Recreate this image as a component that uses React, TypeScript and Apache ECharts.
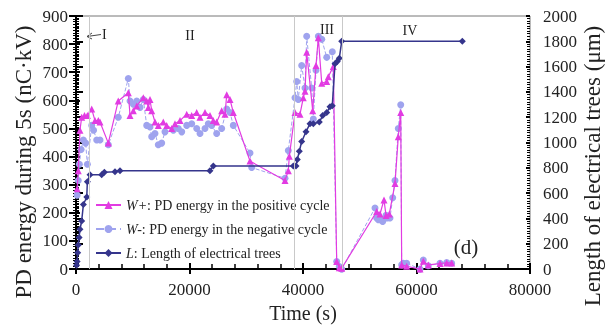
import React, { useEffect, useRef } from "react";
import * as echarts from "echarts";

// ---- Data ----
const wPlusTime = [200, 400, 700, 1000, 1500, 2000, 2770, 3350, 3930, 4230, 5690, 7450, 9220, 9520, 10100, 10700, 11860, 12460, 12740, 13040, 13340, 13920, 14500, 15380, 15980, 16860, 17440, 18330, 19510, 20390, 21270, 21850, 22730, 23610, 24190, 24790, 25670, 26260, 26560, 27140, 27720, 30660, 36830, 37410, 37590, 38590, 39470, 40050, 40350, 40650, 41710, 42290, 42700, 43300, 44180, 44460, 45340, 45940, 46400, 46820, 52990, 53570, 54270, 54630, 55210, 56210, 56790, 57220, 57390, 58270, 60620, 61200, 62080, 64140, 65320, 66200];
const wPlusValue = [286, 350, 494, 540, 546, 546, 569, 528, 528, 523, 448, 598, 627, 546, 563, 580, 609, 598, 575, 603, 563, 523, 511, 523, 511, 500, 517, 528, 551, 546, 557, 540, 557, 546, 528, 523, 563, 551, 620, 603, 557, 384, 315, 350, 401, 557, 551, 609, 632, 771, 563, 724, 823, 661, 667, 684, 720, 27, 5, 3, 205, 196, 246, 191, 196, 304, 471, 557, 15, 10, 0, 28, 15, 20, 22, 22];

const wMinusTime = [200, 400, 600, 900, 1300, 1700, 2000, 2770, 3100, 3650, 4230, 5690, 7450, 9220, 9520, 10100, 10700, 11280, 11860, 12460, 13040, 13340, 13920, 14500, 15100, 15680, 17150, 18030, 18630, 19510, 20390, 21270, 21850, 22730, 23310, 23910, 24790, 25670, 26560, 27140, 27720, 30660, 30960, 36830, 37410, 38590, 38890, 39170, 39770, 40350, 40650, 41530, 41820, 42290, 42700, 43300, 44180, 45160, 45940, 46400, 46820, 52690, 52990, 53270, 53690, 54040, 54630, 54850, 55330, 55810, 56210, 56790, 57220, 57390, 57680, 58270, 60620, 61200, 62080, 64140, 65320, 66200];
const wMinusValue = [263, 315, 373, 425, 459, 448, 373, 511, 494, 459, 459, 442, 540, 678, 598, 586, 598, 575, 603, 511, 505, 471, 482, 442, 448, 488, 494, 500, 488, 511, 517, 500, 482, 500, 517, 511, 482, 500, 569, 557, 511, 413, 361, 323, 422, 609, 667, 603, 724, 644, 828, 644, 534, 707, 828, 817, 753, 773, 27, 9, 0, 217, 182, 176, 176, 169, 191, 182, 182, 254, 315, 500, 584, 15, 21, 21, 0, 32, 12, 21, 23, 21];

const lengthTime = [100, 200, 300, 400, 550, 700, 1000, 1300, 1900, 2000, 2470, 4530, 5000, 6870, 7750, 23600, 24200, 38290, 38770, 39000, 39350, 39770, 40530, 41230, 41820, 42870, 43470, 44180, 44760, 45160, 45640, 46040, 46400, 46820, 68070];
const lengthValue = [30, 60, 130, 190, 250, 315, 380, 510, 570, 690, 745, 745, 765, 770, 777, 777, 815, 815, 815, 866, 931, 1008, 1085, 1149, 1149, 1162, 1213, 1238, 1282, 1290, 1623, 1641, 1667, 1800, 1800];

const phaseBoundaries = [2300, 38400, 47000];
const phaseLabels = ["I", "II", "III", "IV"];

const xTicks = { min: 0, max: 80000, interval: 20000 };
const leftTicks = { min: 0, max: 900, interval: 100 };
const rightTicks = { min: 0, max: 2000, interval: 200 };

const leftTitle = "PD energy during 5s (nC·kV)";
const rightTitle = "Length of electrical trees (μm)";
const xTitle = "Time (s)";

const FONT = "Liberation Serif";

function pairs(t: number[], v: number[]) {
  return t.map((x, i) => [x, v[i]]);
}
const plain = (v: number) => String(v);

export default function App() {
  const ref = useRef<HTMLDivElement>(null);
  useEffect(() => {
    if (!ref.current) return;
    const chart = echarts.init(ref.current, undefined, { renderer: "svg" });
    const axisLineStyle = { color: "#000", width: 2 };
    const option: any = {
      animation: false,
      textStyle: { fontFamily: FONT },
      grid: { left: 76, right: 78, top: 16, bottom: 52, show: true, borderColor: "#777", borderWidth: 1 },
      legend: {
        left: 90,
        top: 193,
        orient: "vertical",
        itemWidth: 25,
        itemHeight: 10,
        itemGap: 10,
        data: ["W+", "W-", "L"],
        textStyle: {
          fontFamily: FONT,
          fontSize: 14,
          color: "#222",
          rich: { i: { fontFamily: FONT, fontSize: 14, fontStyle: "italic", color: "#222" } },
        },
        formatter: (name: string) => {
          if (name === "W+") return "{i|W+}: PD energy in the positive cycle";
          if (name === "W-") return "{i|W-}: PD energy in the negative cycle";
          return "{i|L}: Length of electrical trees";
        },
      },
      xAxis: [
        {
          type: "value",
          ...xTicks,
          position: "bottom",
          name: xTitle,
          nameLocation: "middle",
          nameGap: 27,
          nameTextStyle: { fontFamily: FONT, fontSize: 20, color: "#222" },
          axisLine: { lineStyle: axisLineStyle },
          axisTick: { show: true, inside: false, length: 5, lineStyle: { color: "#000", width: 2 } },
          axisLabel: { fontFamily: FONT, fontSize: 17, color: "#222", margin: 12, formatter: plain },
          splitLine: { show: false },
        },
        {
          type: "value",
          ...xTicks,
          position: "bottom",
          axisLine: { show: false },
          axisTick: { show: true, inside: true, length: 6, lineStyle: { color: "#000", width: 2 } },
          minorTick: { show: true, splitNumber: 5, length: 5, lineStyle: { color: "#000", width: 1.5 } },
          axisLabel: { show: false },
          splitLine: { show: false },
        },
      ],
      yAxis: [
        {
          type: "value",
          ...leftTicks,
          position: "left",
          axisLine: { show: true, lineStyle: axisLineStyle },
          axisTick: { show: true, inside: false, length: 7, lineStyle: { color: "#000", width: 2 } },
          minorTick: { show: true, splitNumber: 10, length: 3, lineStyle: { color: "#000", width: 1 } },
          axisLabel: { fontFamily: FONT, fontSize: 17, color: "#222", margin: 8, formatter: plain },
          splitLine: { show: false },
        },
        {
          type: "value",
          ...rightTicks,
          position: "right",
          axisLine: { show: true, lineStyle: axisLineStyle },
          axisTick: { show: true, inside: false, length: 7, lineStyle: { color: "#000", width: 2 } },
          minorTick: { show: true, splitNumber: 10, length: 3, lineStyle: { color: "#000", width: 1 } },
          axisLabel: { fontFamily: FONT, fontSize: 17, color: "#222", margin: 13, formatter: plain },
          splitLine: { show: false },
        },
        {
          type: "value",
          ...leftTicks,
          position: "left",
          axisLine: { show: false },
          axisTick: { show: true, inside: true, length: 4, lineStyle: { color: "#000", width: 2 } },
          minorTick: { show: true, splitNumber: 10, length: 3, lineStyle: { color: "#000", width: 1 } },
          axisLabel: { show: false },
          splitLine: { show: false },
        },
        {
          type: "value",
          ...rightTicks,
          position: "right",
          axisLine: { show: false },
          axisTick: { show: true, inside: true, length: 4, lineStyle: { color: "#000", width: 2 } },
          minorTick: { show: true, splitNumber: 10, length: 3, lineStyle: { color: "#000", width: 1 } },
          axisLabel: { show: false },
          splitLine: { show: false },
        },
      ],
      series: [
        {
          name: "W+",
          type: "line",
          xAxisIndex: 0,
          yAxisIndex: 0,
          data: pairs(wPlusTime, wPlusValue),
          symbol: "triangle",
          symbolSize: 7,
          lineStyle: { color: "#e23be2", width: 1.2 },
          itemStyle: { color: "#e23be2" },
          z: 3,
          markLine: {
            silent: true,
            symbol: "none",
            label: { show: false },
            lineStyle: { color: "#c9c9c9", type: "solid", width: 1 },
            data: phaseBoundaries.map((x) => ({ xAxis: x })),
          },
        },
        {
          name: "W-",
          type: "line",
          xAxisIndex: 0,
          yAxisIndex: 0,
          data: pairs(wMinusTime, wMinusValue),
          symbol: "circle",
          symbolSize: 7,
          lineStyle: { color: "#9fa3ee", width: 1, type: "dashed" },
          itemStyle: { color: "#9fa3ee" },
          z: 2,
        },
        {
          name: "L",
          type: "line",
          xAxisIndex: 0,
          yAxisIndex: 1,
          data: pairs(lengthTime, lengthValue),
          symbol: "diamond",
          symbolSize: 7,
          lineStyle: { color: "#35358c", width: 1.5 },
          itemStyle: { color: "#35358c" },
          z: 4,
        },
      ],
      graphic: [
        { type: "text", x: 23, y: 162, rotation: Math.PI / 2, style: { text: leftTitle, font: `23px "${FONT}"`, fill: "#222", align: "center", verticalAlign: "middle" } },
        { type: "text", x: 592, y: 166, rotation: Math.PI / 2, style: { text: rightTitle, font: `23px "${FONT}"`, fill: "#222", align: "center", verticalAlign: "middle" } },
        { type: "text", left: 102, top: 27, style: { text: phaseLabels[0], font: `14px "${FONT}"`, fill: "#222" } },
        { type: "line", shape: { x1: 101, y1: 34.5, x2: 87, y2: 36.5 }, style: { stroke: "#444", lineWidth: 1 } },
        { type: "polyline", shape: { points: [[92, 33], [87, 36.5], [92, 39]] }, style: { stroke: "#444", lineWidth: 1, fill: null } },
        { type: "text", x: 190, y: 35, style: { text: phaseLabels[1], font: `14px "${FONT}"`, fill: "#222", align: "center", verticalAlign: "middle" } },
        { type: "text", x: 327, y: 29, style: { text: phaseLabels[2], font: `14px "${FONT}"`, fill: "#222", align: "center", verticalAlign: "middle" } },
        { type: "text", x: 410, y: 30, style: { text: phaseLabels[3], font: `14px "${FONT}"`, fill: "#222", align: "center", verticalAlign: "middle" } },
        { type: "text", x: 466, y: 247, style: { text: "(d)", font: `21px "${FONT}"`, fill: "#222", align: "center", verticalAlign: "middle" } },
      ],
    };
    chart.setOption(option);
    return () => chart.dispose();
  }, []);
  return <div ref={ref} style={{ position: "fixed", left: 0, top: 0, width: 608, height: 328 }} />;
}
